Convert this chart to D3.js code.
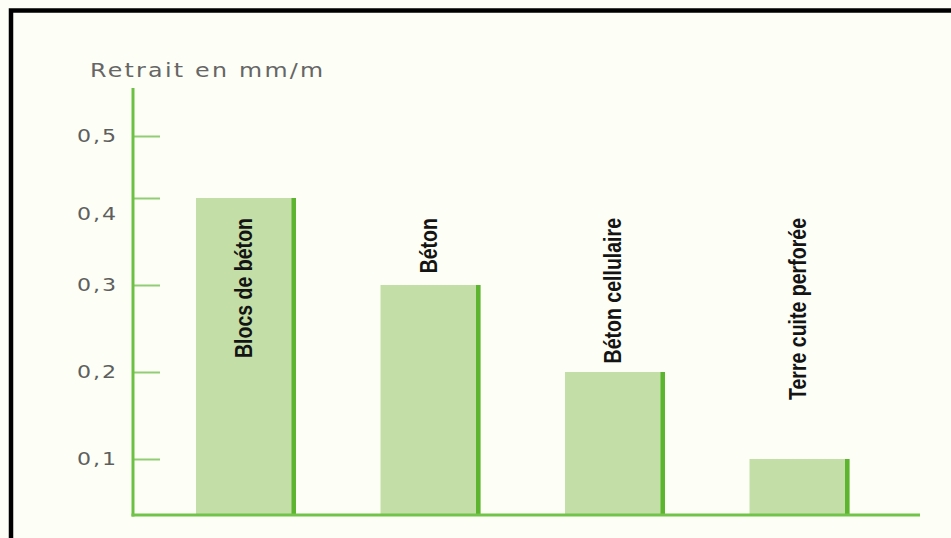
<!DOCTYPE html>
<html>
<head>
<meta charset="utf-8">
<script src="https://cdn.jsdelivr.net/npm/d3@7"></script>
<style>
  html, body { margin: 0; padding: 0; background: #fdfef5; }
  svg { display: block; }
</style>
</head>
<body>
<svg id="chart" width="951" height="538"></svg>
<script>
// Retrait (mm/m) par matériau
const categories = ["Blocs de béton", "Béton", "Béton cellulaire", "Terre cuite perforée"];
const values = [0.4, 0.3, 0.2, 0.1];
const tickValues = [0.1, 0.2, 0.3, 0.4, 0.5];
const tickLabels = ["0,1", "0,2", "0,3", "0,4", "0,5"];
const axisTitle = "Retrait en mm/m";

const svg = d3.select("#chart");
const W = 951, H = 538;

const axisX = 133;
const baseY = 515;
const axisTopY = 88;
const xAxisEnd = 920;

svg.append("rect").attr("width", W).attr("height", H).attr("fill", "#fdfef5");

// frame
svg.append("rect")
  .attr("x", 11).attr("y", 10.5)
  .attr("width", W + 20).attr("height", H + 20)
  .attr("fill", "none").attr("stroke", "#000").attr("stroke-width", 4.5);

// vertical scale (graduated scale of the printed figure, piecewise linear)
const y = d3.scaleLinear()
  .domain([0, 0.1, 0.4, 0.5])
  .range([baseY, 459, 198, 136]);

const x = d3.scaleBand()
  .domain(categories)
  .range([196, 849.5])
  .paddingInner(0.458)
  .paddingOuter(0);

// bars
const bars = svg.append("g");
categories.forEach((c, i) => {
  const x0 = x(c), bw = x.bandwidth(), top = y(values[i]);
  bars.append("rect")
    .attr("x", x0).attr("y", top)
    .attr("width", bw).attr("height", baseY - top)
    .attr("fill", "#c3dfa7");
  bars.append("rect")
    .attr("x", x0 + bw - 4.5).attr("y", top)
    .attr("width", 4.5).attr("height", baseY - top)
    .attr("fill", "#5db52f");
});

// bar labels, rotated, condensed
categories.forEach((c, i) => {
  const cx = x(c) + x.bandwidth() / 2 - 2;
  svg.append("text")
    .attr("transform", `translate(${cx},218) rotate(-90) scale(0.85,1)`)
    .attr("text-anchor", "end")
    .attr("dy", "0.36em")
    .attr("font-family", "'Liberation Sans', Arial, sans-serif")
    .attr("font-weight", "bold")
    .attr("font-size", 23)
    .attr("fill", "#141414")
    .text(c);
});

// y axis
const labelScale = 1.3;
const yAxis = d3.axisLeft(y)
  .tickValues(tickValues)
  .tickFormat((d, i) => tickLabels[i])
  .tickSize(-27)
  .tickPadding(15);

const gy = svg.append("g")
  .attr("transform", `translate(${axisX},0)`)
  .call(yAxis);
gy.select(".domain").remove();
gy.selectAll(".tick line")
  .attr("stroke", "#92cc74").attr("stroke-width", 2);
gy.selectAll(".tick text")
  .attr("x", -15 / labelScale)
  .attr("transform", `scale(${labelScale},1)`)
  .attr("font-family", "'DejaVu Sans', sans-serif")
  .attr("font-size", 17)
  .attr("letter-spacing", 1.5)
  .attr("fill", "#5e5e5e")
  .attr("dy", (d) => d === 0.4 ? "1.25em" : "0.35em");

// axis lines
svg.append("line")
  .attr("x1", axisX).attr("x2", axisX)
  .attr("y1", axisTopY).attr("y2", baseY + 1.5)
  .attr("stroke", "#6cc144").attr("stroke-width", 3);
svg.append("line")
  .attr("x1", axisX - 1.5).attr("x2", xAxisEnd)
  .attr("y1", baseY).attr("y2", baseY)
  .attr("stroke", "#72c34a").attr("stroke-width", 3);

// axis title
svg.append("text")
  .attr("transform", "translate(90,77) scale(1.25,1)")
  .attr("font-family", "'DejaVu Sans', sans-serif")
  .attr("font-size", 19)
  .attr("letter-spacing", 1.8)
  .attr("fill", "#666")
  .text(axisTitle);
</script>
</body>
</html>
